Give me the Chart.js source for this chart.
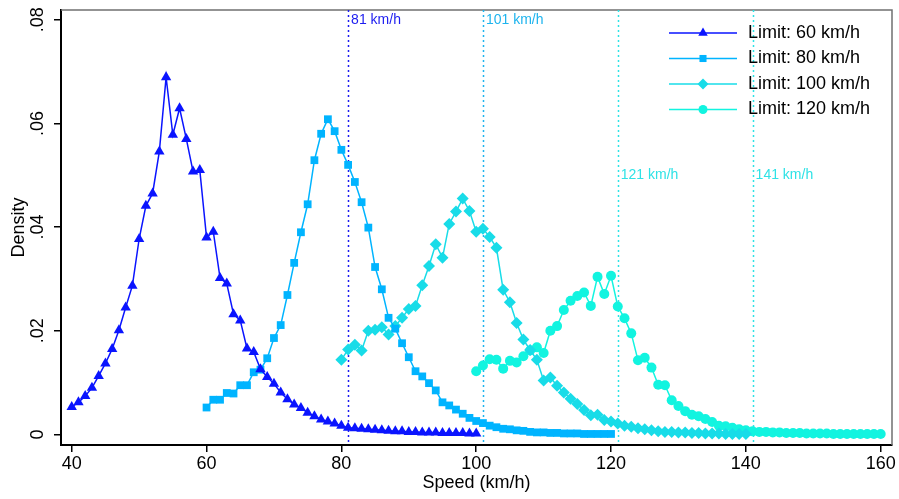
<!DOCTYPE html>
<html>
<head>
<meta charset="utf-8">
<script src="https://cdn.jsdelivr.net/npm/chart.js@4.4.0/dist/chart.umd.min.js"></script>
<style>
html, body { margin: 0; padding: 0; background: #fff; }
#wrap { position: relative; width: 899px; height: 499px; }
</style>
</head>
<body>
<div id="wrap"><canvas id="densityChart"></canvas></div>
<script>
// speed bins (km/h)
const speeds = [
    40, 41, 42, 43, 44, 45, 46, 47, 48, 49, 50, 51, 52, 53, 54, 55, 56, 57, 58, 59,
    60, 61, 62, 63, 64, 65, 66, 67, 68, 69, 70, 71, 72, 73, 74, 75, 76, 77, 78, 79,
    80, 81, 82, 83, 84, 85, 86, 87, 88, 89, 90, 91, 92, 93, 94, 95, 96, 97, 98, 99,
    100, 101, 102, 103, 104, 105, 106, 107, 108, 109, 110, 111, 112, 113, 114, 115, 116, 117, 118, 119,
    120, 121, 122, 123, 124, 125, 126, 127, 128, 129, 130, 131, 132, 133, 134, 135, 136, 137, 138, 139,
    140, 141, 142, 143, 144, 145, 146, 147, 148, 149, 150, 151, 152, 153, 154, 155, 156, 157, 158, 159, 160
];

// density per limit, 40..100 / 60..120 / 80..140 / 100..160
const density60 = [
    .0053, .0062, .0074, .0090, .0113, .0137, .0165, .0201, .0245, .0287,
    .0377, .0441, .0465, .0546, .0689, .0578, .0629, .0570, .0507, .0510,
    .0380, .0391, .0302, .0291, .0232, .0220, .0166, .0159, .0126, .0111,
    .0098, .0081, .0068, .0058, .0051, .0042, .0035, .0029, .0025, .0021,
    .0017, .0013, .0012, .0011, .0010, .0009, .0008, .0007, .0006, .0006,
    .0005, .0005, .0004, .0004, .0004, .0003, .0003, .0003, .0003, .0002, .0002
];
const density80 = [
    .0052, .0067, .0067, .0080, .0079, .0095, .0095, .0120, .0125, .0147,
    .0186, .0211, .0269, .0331, .0390, .0444, .0529, .0580, .0608, .0585,
    .0549, .0520, .0487, .0448, .0399, .0323, .0280, .0225, .0204, .0176,
    .0149, .0122, .0112, .0099, .0085, .0062, .0056, .0048, .0040, .0032,
    .0026, .0022, .0017, .0014, .0011, .0010, .0008, .0007, .0005, .0004,
    .0004, .0003, .0003, .0002, .0002, .0002, .0001, .0001, .0001, .0001, .0001
];
const density100 = [
    .0144, .0164, .0173, .0162, .0200, .0202, .0207, .0193, .0209, .0225,
    .0242, .0248, .0288, .0325, .0367, .0341, .0406, .0430, .0455, .0431,
    .0391, .0397, .0381, .0360, .0279, .0255, .0215, .0183, .0163, .0144,
    .0104, .0110, .0094, .0081, .0069, .0059, .0047, .0037, .0038, .0028,
    .0025, .0021, .0017, .0015, .0012, .0010, .0008, .0006, .0005, .0005,
    .0004, .0004, .0003, .0003, .0002, .0002, .0002, .0001, .0001, .0001, .0001
];
const density120 = [
    .0122, .0133, .0145, .0144, .0127, .0142, .0139, .0151, .0162, .0168,
    .0157, .0200, .0209, .0240, .0258, .0267, .0274, .0248, .0304, .0271,
    .0306, .0247, .0224, .0195, .0143, .0148, .0129, .0096, .0095, .0066,
    .0055, .0045, .0038, .0035, .0030, .0024, .0017, .0016, .0013, .0010,
    .0008, .0006, .0005, .0005, .0004, .0004, .0003, .0003, .0003, .0002,
    .0002, .0002, .0002, .0001, .0001, .0001, .0001, .0001, .0001, .0001, .0001
];

const seriesLabels = ['Limit: 60 km/h', 'Limit: 80 km/h', 'Limit: 100 km/h', 'Limit: 120 km/h'];
const seriesStart = [0, 20, 40, 60];

// limit + 1 km/h markers
const cutoffs = [81, 101, 121, 141];
const cutoffLabels = ['81 km/h', '101 km/h', '121 km/h', '141 km/h'];
const cutoffLabelY = [0.08, 0.08, 0.05, 0.05];

const xTicks = [40, 60, 80, 100, 120, 140, 160];
const yTicks = [0, 0.02, 0.04, 0.06, 0.08];
const yTickLabels = ['0', '.02', '.04', '.06', '.08'];

const colors = ['#0a14ff', '#00b4ff', '#18dce8', '#12f4e0'];
const cutoffColors = ['#1c1cf0', '#1eb4ee', '#2ee2e6', '#2ee2e6'];
const markers = ['triangle', 'rect', 'rectRot', 'circle'];
const markerRadius = [6, 5.5, 6, 5];

const FONT = '"Liberation Sans", Arial, Helvetica, sans-serif';

const allDensity = [density60, density80, density100, density120];

const datasets = allDensity.map((vals, i) => ({
    label: seriesLabels[i],
    data: vals.map((v, j) => ({ x: speeds[seriesStart[i] + j], y: v })),
    borderColor: colors[i],
    backgroundColor: colors[i],
    borderWidth: 1.5,
    pointStyle: markers[i],
    pointRadius: markerRadius[i],
    pointBorderWidth: 0,
    pointBackgroundColor: colors[i],
    tension: 0,
    fill: false
}));

const overlayPlugin = {
    id: 'overlay',
    beforeDatasetsDraw(chart) {
        const { ctx, chartArea: a, scales: { x, y } } = chart;
        ctx.save();
        // grey top / right frame
        ctx.strokeStyle = '#707070';
        ctx.lineWidth = 1.5;
        ctx.beginPath();
        ctx.moveTo(a.left, a.top);
        ctx.lineTo(a.right, a.top);
        ctx.lineTo(a.right, a.bottom);
        ctx.stroke();

        // dotted cutoff lines
        ctx.lineWidth = 1.5;
        ctx.setLineDash([2, 3]);
        cutoffs.forEach((c, i) => {
            const px = Math.round(x.getPixelForValue(c)) + 0.5;
            ctx.strokeStyle = cutoffColors[i];
            ctx.beginPath();
            ctx.moveTo(px, a.top);
            ctx.lineTo(px, a.bottom);
            ctx.stroke();
        });
        ctx.setLineDash([]);

        ctx.font = '14px ' + FONT;
        ctx.textAlign = 'left';
        ctx.textBaseline = 'middle';
        cutoffs.forEach((c, i) => {
            ctx.fillStyle = cutoffColors[i];
            ctx.fillText(cutoffLabels[i], x.getPixelForValue(c) + 3, y.getPixelForValue(cutoffLabelY[i]));
        });
        ctx.restore();
    },
    afterDraw(chart) {
        const { ctx, chartArea: a, scales: { y } } = chart;
        ctx.save();
        // rotated y tick labels
        ctx.fillStyle = '#000';
        ctx.font = '18px ' + FONT;
        ctx.textAlign = 'center';
        ctx.textBaseline = 'middle';
        yTicks.forEach((v, i) => {
            ctx.save();
            ctx.translate(a.left - 23, y.getPixelForValue(v));
            ctx.rotate(-Math.PI / 2);
            ctx.fillText(yTickLabels[i], 0, 0);
            ctx.restore();
        });
        ctx.save();
        ctx.translate(a.left - 42, (a.top + a.bottom) / 2);
        ctx.rotate(-Math.PI / 2);
        ctx.fillText('Density', 0, 0);
        ctx.restore();

        // legend: line + marker, then text
        const x0 = a.right - 223, x1 = a.right - 155, tx = a.right - 144;
        ctx.textAlign = 'left';
        seriesLabels.forEach((lab, i) => {
            const ly = a.top + 23 + i * 25.5;
            ctx.strokeStyle = colors[i];
            ctx.lineWidth = 1.5;
            ctx.beginPath();
            ctx.moveTo(x0, ly);
            ctx.lineTo(x1, ly);
            ctx.stroke();
            ctx.fillStyle = colors[i];
            Chart.helpers.drawPoint(ctx, { pointStyle: markers[i], radius: markerRadius[i] - 0.5, rotation: 0, borderWidth: 0 }, (x0 + x1) / 2, ly);
            ctx.fillStyle = '#000';
            ctx.fillText(lab, tx, ly);
        });
        ctx.restore();
    }
};

const config = {
    type: 'line',
    data: { datasets: datasets },
    options: {
        responsive: true,
        maintainAspectRatio: false,
        animation: false,
        layout: { padding: { top: 10, right: 7, left: 0, bottom: 0 } },
        plugins: {
            legend: { display: false },
            tooltip: { enabled: false }
        },
        scales: {
            x: {
                type: 'linear',
                min: 38.41,
                max: 161.68,
                afterBuildTicks: (scale) => { scale.ticks = xTicks.map(v => ({ value: v })); },
                afterFit: (scale) => { scale.height = 54; },
                border: { display: true, color: '#000', width: 2 },
                grid: { drawOnChartArea: false, drawTicks: true, tickLength: 7, color: '#000', lineWidth: 1.5 },
                ticks: {
                    color: '#000',
                    padding: 1,
                    maxRotation: 0,
                    font: { family: FONT, size: 18 }
                },
                title: {
                    display: true,
                    text: 'Speed (km/h)',
                    color: '#000',
                    padding: { top: 0, bottom: 5 },
                    font: { family: FONT, size: 18 }
                }
            },
            y: {
                type: 'linear',
                min: -0.00203,
                max: 0.08187,
                afterBuildTicks: (scale) => { scale.ticks = yTicks.map(v => ({ value: v })); },
                afterFit: (scale) => { scale.width = 61; },
                border: { display: true, color: '#000', width: 2 },
                grid: { drawOnChartArea: false, drawTicks: true, tickLength: 7, color: '#000', lineWidth: 1.5 },
                ticks: { display: false }
            }
        }
    },
    plugins: [overlayPlugin]
};

const densityChart = new Chart(document.getElementById('densityChart').getContext('2d'), config);
</script>
</body>
</html>
